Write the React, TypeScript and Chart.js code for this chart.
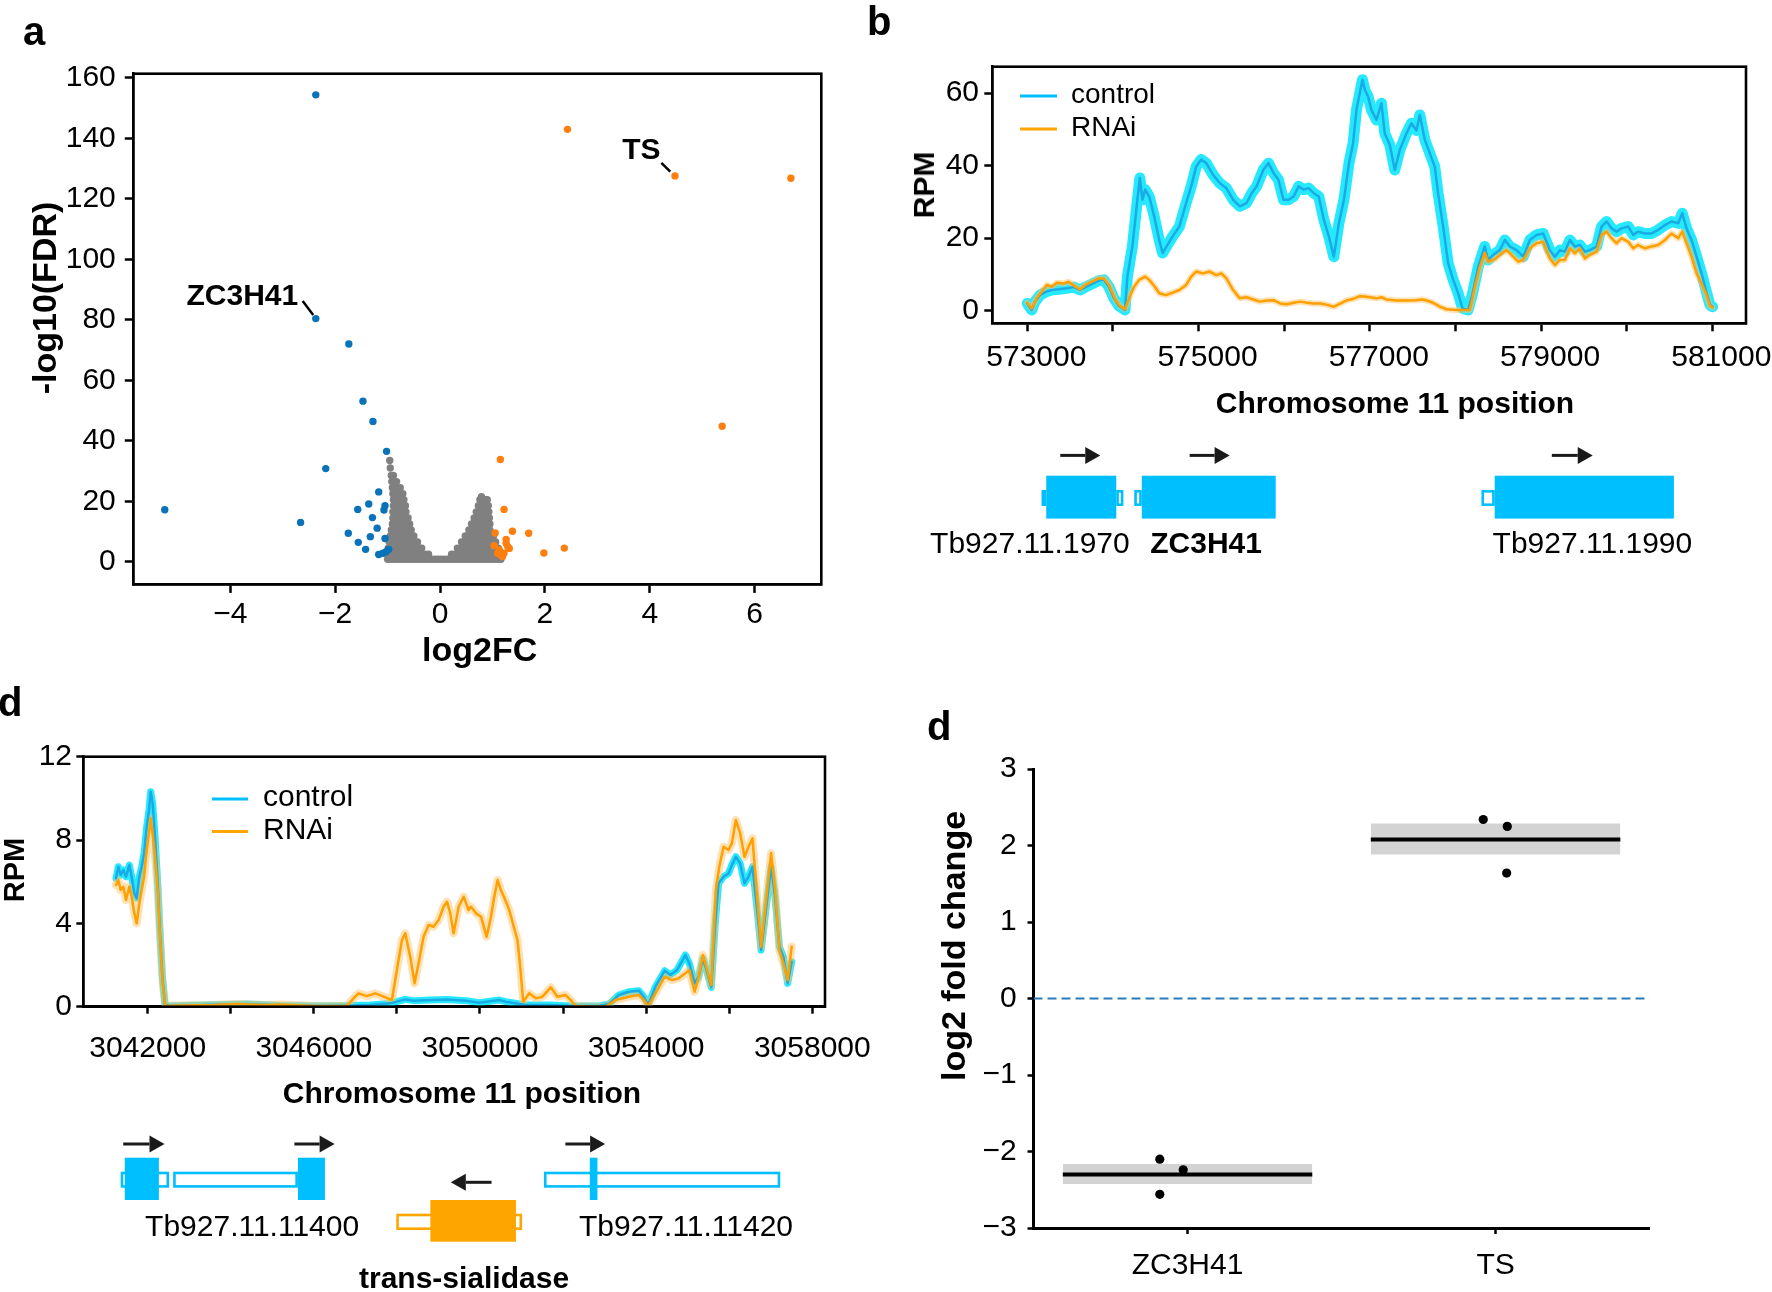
import React, { useEffect, useRef } from 'react';
import { Chart, registerables } from 'chart.js';

Chart.register(...registerables);

const FONT_FAMILY = "'Liberation Sans', Arial, Helvetica, sans-serif";
const MINUS = '\u2212';
const signed = (v: number) => (v < 0 ? MINUS + Math.abs(v) : String(v));

// ================= Panel a : volcano plot =================
const VOLCANO_X_TICKS = [-4, -2, 0, 2, 4, 6];
const VOLCANO_Y_TICKS = [0, 20, 40, 60, 80, 100, 120, 140, 160];

const DOWN_REGULATED: [number, number][] = [
  [-2.37, 154.4], [-2.37, 80.4], [-1.74, 72.0], [-1.47, 53.1], [-1.28, 46.4], [-1.02, 36.5],
  [-2.18, 30.8], [-5.25, 17.2], [-2.66, 13.0], [-1.17, 23.1], [-1.36, 19.1], [-1.57, 17.3],
  [-1.05, 18.5], [-1.07, 17.1], [-1.29, 14.6], [-1.2, 11.1], [-1.75, 9.4], [-1.33, 8.3],
  [-1.05, 7.7], [-1.56, 6.4], [-1.42, 4.1], [-1.17, 2.4], [-1.09, 2.8], [-1.03, 3.3], [-0.98, 4.1],
];

const UP_REGULATED: [number, number][] = [
  [2.43, 143.0], [4.48, 127.6], [6.69, 126.8], [5.38, 44.8], [1.15, 33.8], [1.22, 17.3],
  [1.05, 9.5], [1.38, 10.1], [1.69, 9.4], [1.26, 7.4], [1.98, 2.9], [2.37, 4.5], [1.03, 5.3],
  [1.13, 3.9], [1.22, 2.8], [1.29, 5.0], [1.19, 1.7], [1.1, 2.8], [1.32, 4.4], [1.26, 6.1], [1.16, 2.2],
];

// not significant genes, read row by row: [ -log10(FDR), log2FC values ]
const NOT_SIGNIFICANT_ROWS: [number, number[]][] = [
  [33.5, [-0.96]],
  [31, [-0.95]],
  [28.5, [-0.93, -0.89]],
  [26.5, [-0.92, -0.87, -0.83]],
  [24.5, [-0.91, -0.86, -0.81, -0.76]],
  [22.5, [-0.9, -0.85, -0.8, -0.75, -0.71]],
  [21.5, [0.79]],
  [20.5, [-0.89, -0.84, -0.79, -0.74, -0.69, 0.76, 0.81, 0.86, 0.9]],
  [18.5, [-0.89, -0.84, -0.79, -0.74, -0.69, -0.66, 0.73, 0.78, 0.83, 0.88, 0.92]],
  [16.5, [-0.9, -0.85, -0.8, -0.75, -0.7, -0.65, 0.69, 0.74, 0.79, 0.84, 0.89, 0.93]],
  [14.5, [-0.9, -0.85, -0.8, -0.75, -0.7, -0.65, -0.61, 0.65, 0.7, 0.75, 0.8, 0.85, 0.9, 0.94]],
  [12.5, [-0.91, -0.86, -0.81, -0.76, -0.71, -0.66, -0.61, -0.58, 0.6, 0.65, 0.7, 0.75, 0.8, 0.85, 0.9, 0.95]],
  [10.5, [-0.93, -0.88, -0.83, -0.78, -0.73, -0.68, -0.63, -0.58, -0.55,
    0.55, 0.6, 0.65, 0.7, 0.75, 0.8, 0.85, 0.9, 0.95]],
  [8.5, [-0.95, -0.9, -0.85, -0.8, -0.75, -0.7, -0.65, -0.6, -0.55, -0.5,
    0.48, 0.53, 0.58, 0.63, 0.68, 0.73, 0.78, 0.83, 0.88, 0.93, 0.98, 1.02]],
  [6.5, [-0.97, -0.92, -0.87, -0.82, -0.77, -0.72, -0.67, -0.62, -0.57, -0.52, -0.47, -0.43,
    0.41, 0.47, 0.53, 0.59, 0.65, 0.71, 0.77, 0.83, 0.89, 0.95, 1.01, 1.06]],
  [4.5, [-0.99, -0.94, -0.89, -0.84, -0.79, -0.74, -0.69, -0.64, -0.59, -0.54, -0.49, -0.44, -0.39, -0.35,
    0.33, 0.39, 0.45, 0.51, 0.57, 0.63, 0.69, 0.75, 0.81, 0.87, 0.93, 0.99, 1.05, 1.11]],
  [2.5, [-1.0, -0.94, -0.88, -0.82, -0.76, -0.7, -0.64, -0.58, -0.52, -0.46, -0.4, -0.34, -0.28, -0.22,
    0.22, 0.28, 0.34, 0.4, 0.46, 0.52, 0.58, 0.64, 0.7, 0.76, 0.82, 0.88, 0.94, 1.0, 1.06, 1.12, 1.18]],
  [0.8, [-1.0, -0.94, -0.88, -0.82, -0.76, -0.7, -0.64, -0.58, -0.52, -0.46, -0.4, -0.34, -0.28, -0.22,
    -0.16, -0.1, -0.04, 0.02, 0.08, 0.14, 0.2, 0.26, 0.32, 0.38, 0.44, 0.5, 0.56, 0.62, 0.68, 0.74,
    0.8, 0.86, 0.92, 0.98, 1.04, 1.1, 1.16]],
];

const VOLCANO_CALLOUTS = [
  { text: 'ZC3H41', at: [-3.77, 87.6], from: [-2.62, 86.2], to: [-2.42, 81.6] },
  { text: 'TS', at: [3.84, 135.9], from: [4.22, 131.9], to: [4.39, 129.0] },
];

// ================= Panel b : coverage, chr11 573-581 kb =================
const SERIES_NAMES = ['control', 'RNAi'];
const B_X_TICKS = [573000, 574000, 575000, 576000, 577000, 578000, 579000, 580000, 581000];
const B_X_LABELLED = [573000, 575000, 577000, 579000, 581000];
const B_Y_TICKS = [0, 20, 40, 60];

const B_CONTROL: [number, number][] = [
  [573000, 2.0], [573051, 0.2], [573090, 2.5], [573149, 4.3], [573227, 5.3], [573286, 5.7], [573365, 5.9],
  [573463, 6.2], [573541, 6.5], [573620, 5.7], [573678, 6.5], [573757, 7.4], [573835, 8.3], [573894, 8.5],
  [573953, 6.6], [574012, 3.4], [574071, 1.3], [574141, 0.2], [574169, 9.4], [574227, 17.7], [574286, 30.6],
  [574314, 36.6], [574345, 30.6], [574376, 33.4], [574424, 31.5], [574482, 26], [574541, 19.5], [574580, 15.9],
  [574639, 18.2], [574698, 20.5], [574776, 23.2], [574855, 29.7], [574914, 34.3], [574973, 39.8], [575031, 41.7],
  [575090, 40.7], [575169, 37.5], [575247, 35.2], [575325, 33.8], [575404, 30.6], [575482, 28.8], [575561, 29.7],
  [575620, 32.4], [575678, 34.3], [575757, 38.9], [575816, 40.7], [575875, 38], [575933, 36.1], [575992, 30.6],
  [576051, 30.6], [576110, 31.5], [576169, 34.3], [576227, 33.4], [576286, 33.8], [576345, 32.4], [576404, 31.5],
  [576463, 25.1], [576522, 20.5], [576580, 14.9], [576639, 24.1], [576698, 30.6], [576757, 40.7], [576805, 46.2],
  [576844, 55.4], [576883, 60], [576914, 63.7], [576942, 60.9], [576981, 59], [577019, 55.4], [577078, 52.6],
  [577136, 57.2], [577175, 48.9], [577234, 45.7], [577292, 38.8], [577350, 44.3], [577428, 48.9], [577487, 51.7],
  [577545, 49.7], [577584, 54], [577643, 47.1], [577701, 43.4], [577759, 39.7], [577798, 32.4], [577857, 23.2],
  [577915, 13.1], [577974, 8.5], [578032, 4.8], [578083, 0.6], [578149, 0.2], [578200, 4.8], [578266, 12.1],
  [578316, 15.8], [578343, 17.7], [578383, 14], [578441, 15.4], [578519, 16.7], [578577, 19.5], [578636, 17.7],
  [578714, 16.7], [578792, 14.9], [578870, 19.5], [578948, 20.9], [579025, 21.3], [579103, 16.7], [579162, 14.9],
  [579220, 16.7], [579279, 16.3], [579337, 19.5], [579396, 17.7], [579454, 18.1], [579512, 16.3], [579571, 16.7],
  [579649, 17.7], [579707, 23.2], [579766, 24.6], [579824, 22.7], [579882, 21.8], [579941, 22.7], [580019, 23.2],
  [580077, 20.9], [580135, 21.8], [580213, 21.3], [580291, 21.3], [580369, 22.3], [580447, 23.6], [580525, 24.6],
  [580603, 24.1], [580649, 26.9], [580700, 22.7], [580758, 19.5], [580817, 14.9], [580875, 10.3], [580926, 5.7],
  [580973, 1.6], [581004, 1.1],
];

const B_RNAI: [number, number][] = [
  [573000, 2.2], [573051, 0.6], [573109, 3.4], [573168, 5.2], [573227, 7.1], [573286, 6.6], [573345, 7.7],
  [573424, 7.5], [573482, 8.0], [573561, 6.6], [573620, 5.9], [573678, 7.1], [573757, 8.0], [573835, 8.9],
  [573894, 8.9], [573953, 7.1], [574031, 2.9], [574090, 1.1], [574141, 0.4], [574188, 3.4], [574247, 6.6],
  [574306, 8.5], [574376, 9.4], [574424, 8.5], [574482, 6.8], [574541, 4.8], [574620, 4.3], [574698, 5.0],
  [574776, 5.7], [574855, 7.1], [574914, 9.4], [574973, 10.8], [575051, 10.3], [575129, 10.8], [575208, 9.8],
  [575267, 10.3], [575325, 8.9], [575404, 5.7], [575482, 3.4], [575561, 3.7], [575639, 3.1], [575718, 2.5],
  [575796, 2.8], [575875, 2.9], [575953, 2.0], [576031, 1.8], [576110, 2.2], [576188, 2.5], [576267, 2.2],
  [576345, 2.0], [576424, 2.0], [576502, 1.6], [576580, 1.1], [576659, 2.0], [576737, 2.9], [576816, 3.3],
  [576883, 4.0], [576942, 3.9], [577000, 3.7], [577078, 3.4], [577136, 3.7], [577195, 3.1], [577312, 2.8],
  [577428, 2.8], [577545, 2.9], [577604, 3.1], [577662, 2.8], [577740, 2.2], [577818, 1.1], [577896, 0.4],
  [578013, 0.2], [578169, 0.2], [578227, 6.6], [578286, 12.1], [578343, 16], [578383, 13.5], [578461, 14.2],
  [578539, 15.8], [578597, 16.7], [578675, 14.9], [578734, 13.5], [578792, 14], [578870, 17.2], [578948, 18.6],
  [579025, 19], [579103, 14.4], [579162, 12.6], [579220, 14], [579279, 14], [579337, 17.2], [579396, 15.8],
  [579454, 17.2], [579512, 14.4], [579571, 15.4], [579649, 16.3], [579707, 20.9], [579766, 21.8], [579824, 20],
  [579882, 18.6], [579941, 20], [580019, 19], [580077, 17.2], [580135, 18.1], [580213, 17.2], [580291, 17.7],
  [580369, 18.1], [580447, 19.5], [580525, 21.3], [580603, 20], [580649, 21.8], [580700, 18.6], [580758, 14.9],
  [580817, 10.3], [580875, 7.5], [580926, 4.8], [580973, 1.3], [581004, 0.9],
];

const B_GENES = [
  { name: 'Tb927.11.1970', bold: false, color: 'blue', row: 0, cds: [[573221, 574039]], utr: [[573166, 573221], [574039, 574122]], arrows: [[573385, 573852]], labelAt: 573030 },
  { name: 'ZC3H41', bold: true, color: 'blue', row: 0, cds: [[574337, 575901]], utr: [[574249, 574337]], arrows: [[574896, 575363]], labelAt: 575088 },
  { name: 'Tb927.11.1990', bold: false, color: 'blue', row: 0, cds: [[578459, 580552]], utr: [[578304, 578459]], arrows: [[579126, 579604]], labelAt: 579600 },
];

// ================= Panel d (left) : coverage, chr11 3.04-3.058 Mb =================
const D_X_TICKS = [3042000, 3044000, 3046000, 3048000, 3050000, 3052000, 3054000, 3056000, 3058000];
const D_X_LABELLED = [3042000, 3046000, 3050000, 3054000, 3058000];
const D_Y_TICKS = [0, 4, 8, 12];

const D_CONTROL: [number, number][] = [
  [3041237, 6.16], [3041293, 6.72], [3041349, 6.32], [3041414, 6.56], [3041478, 6.24], [3041558, 6.8],
  [3041614, 6.24], [3041679, 5.44], [3041735, 5.2], [3041799, 6.24], [3041855, 6.72], [3041912, 7.36],
  [3041976, 8.64], [3042032, 9.44], [3042072, 10.32], [3042120, 9.76], [3042177, 8.16], [3042241, 5.92],
  [3042297, 3.52], [3042353, 1.44], [3042418, 0.08], [3042538, 0.03], [3043422, 0.08], [3044386, 0.13],
  [3045189, 0.06], [3045992, 0.03], [3046795, 0.05], [3047357, 0.08], [3047839, 0.16], [3048201, 0.35],
  [3048402, 0.29], [3048803, 0.32], [3049205, 0.35], [3049664, 0.29], [3049984, 0.19], [3050464, 0.32],
  [3050624, 0.24], [3051104, 0.08], [3051664, 0.08], [3052064, 0.05], [3052384, 0.03], [3052864, 0.03],
  [3053104, 0.13], [3053344, 0.56], [3053584, 0.72], [3053824, 0.77], [3053944, 0.48], [3054048, 0.08],
  [3054224, 0.96], [3054448, 1.73], [3054584, 1.52], [3054744, 1.76], [3054944, 2.48], [3055040, 2.08],
  [3055168, 1.12], [3055264, 1.44], [3055368, 2.32], [3055464, 1.68], [3055568, 0.93], [3055664, 4.0],
  [3055744, 5.92], [3055864, 6.24], [3055984, 6.4], [3056064, 6.8], [3056160, 7.2], [3056264, 6.88],
  [3056368, 5.92], [3056464, 6.24], [3056560, 6.72], [3056664, 4.8], [3056768, 2.72], [3056864, 4.32],
  [3057008, 6.72], [3057104, 5.28], [3057208, 2.88], [3057304, 2.4], [3057408, 1.12], [3057504, 2.16],
];

const D_RNAI: [number, number][] = [
  [3041237, 5.84], [3041293, 6.08], [3041349, 5.6], [3041414, 5.76], [3041478, 5.12], [3041558, 5.76],
  [3041614, 5.28], [3041679, 4.48], [3041735, 4.0], [3041799, 4.96], [3041855, 5.6], [3041912, 6.24],
  [3041976, 7.52], [3042032, 8.32], [3042072, 9.04], [3042120, 8.32], [3042177, 7.2], [3042241, 5.6],
  [3042297, 3.36], [3042361, 1.12], [3042426, 0.03], [3042779, 0.06], [3043582, 0.08], [3044145, 0.13],
  [3044868, 0.08], [3045189, 0.11], [3045992, 0.03], [3046795, 0.03], [3046956, 0.4], [3047076, 0.64],
  [3047277, 0.51], [3047478, 0.64], [3047679, 0.48], [3047879, 0.32], [3048000, 1.76], [3048121, 3.2],
  [3048201, 3.52], [3048321, 2.4], [3048426, 1.12], [3048522, 2.08], [3048642, 3.36], [3048763, 3.92],
  [3048883, 3.84], [3049004, 4.16], [3049124, 4.8], [3049205, 5.04], [3049285, 4.48], [3049366, 3.52],
  [3049486, 4.8], [3049606, 5.28], [3049727, 4.64], [3049784, 4.8], [3049904, 4.48], [3050024, 4.32],
  [3050160, 3.36], [3050264, 4.32], [3050344, 5.28], [3050424, 6.08], [3050504, 5.6], [3050608, 5.12],
  [3050704, 4.64], [3050824, 3.76], [3050904, 3.2], [3050968, 1.92], [3051040, 0.24], [3051184, 0.64],
  [3051344, 0.4], [3051504, 0.48], [3051704, 0.93], [3051864, 0.48], [3052064, 0.56], [3052184, 0.32],
  [3052304, 0.03], [3052704, 0], [3053024, 0], [3053264, 0.32], [3053584, 0.48], [3053824, 0.56],
  [3053944, 0.32], [3054048, 0.03], [3054224, 0.64], [3054448, 1.44], [3054624, 1.28], [3054784, 1.36],
  [3054944, 1.6], [3055040, 1.76], [3055168, 0.72], [3055264, 1.44], [3055368, 2.48], [3055464, 1.76],
  [3055568, 1.04], [3055680, 5.6], [3055760, 6.72], [3055864, 7.68], [3055984, 7.52], [3056064, 7.84],
  [3056160, 8.96], [3056264, 8.32], [3056368, 7.2], [3056464, 7.68], [3056560, 8.08], [3056664, 5.44],
  [3056768, 2.88], [3056864, 4.64], [3057008, 7.36], [3057104, 5.6], [3057208, 2.72], [3057304, 2.08],
  [3057408, 1.28], [3057504, 2.88],
];

const D_GENES = [
  { name: 'Tb927.11.11400', bold: false, color: 'blue', row: 0, cds: [[3041448, 3042270], [3045617, 3046267]], utr: [[3041350, 3042515], [3042613, 3045617]], arrows: [[3041411, 3042405], [3045532, 3046500]], labelAt: 3044514 },
  { name: 'trans-sialidase', bold: true, color: 'orange', row: 1, cds: [[3048805, 3050866]], utr: [[3047985, 3051014]], arrows: [[3050278, 3049297]], labelAt: 3049616 },
  { name: 'Tb927.11.11420', bold: false, color: 'blue', row: 0, cds: [[3052644, 3052828]], utr: [[3051540, 3057229]], arrows: [[3052056, 3053012]], labelAt: 3054960 },
];

// ================= Panel d (right) : qPCR log2 fold change =================
const QPCR_TARGETS = ['ZC3H41', 'TS'];
const QPCR_REPLICATES = [[-2.10, -2.24, -2.56], [2.34, 2.25, 1.64]];
const QPCR_JITTER = [[-0.09, -0.014, -0.09], [-0.04, 0.038, 0.036]];
const QPCR_MEAN = [-2.30, 2.08];
const QPCR_SE_LOW = [-2.426, 1.882];
const QPCR_SE_HIGH = [-2.163, 2.286];
const QPCR_Y_TICKS = [-3, -2, -1, 0, 1, 2, 3];

// ================= styles =================
const COLORS: Record<string, string> = {
  blue: '#00BFFF',
  orange: '#FFA500',
  down: '#0A72B8',
  up: '#FF7F0E',
  ns: '#808080',
  controlLine: '#19ABE5',
  controlBand: 'rgba(0,229,255,0.85)',
  rnaiLine: '#FFA000',
  rnaiBand: 'rgba(255,195,105,0.5)',
};

const toXY = (pairs: [number, number][]) => pairs.map(([x, y]) => ({ x, y }));

function makeAxis(horizontal: boolean, s: any) {
  return {
    type: 'linear',
    position: horizontal ? 'bottom' : 'left',
    min: s.min,
    max: s.max,
    bounds: 'data',
    offset: false,
    afterBuildTicks: (scale: any) => {
      scale.ticks = s.ticks.map((value: number) => ({ value }));
    },
    afterFit: (scale: any) => {
      if (horizontal) scale.height = s.size;
      else scale.width = s.size;
      scale.paddingLeft = 0;
      scale.paddingRight = 0;
      scale.paddingTop = 0;
      scale.paddingBottom = 0;
    },
    ticks: {
      autoSkip: false,
      maxRotation: 0,
      minRotation: 0,
      padding: s.padding,
      labelOffset: s.labelOffset || 0,
      color: '#000',
      font: { family: FONT_FAMILY, size: s.fontSize || 30 },
      callback: (v: any) => (s.label ? s.label(Number(v)) : signed(Number(v))),
    },
    grid: {
      display: true,
      drawOnChartArea: false,
      drawTicks: true,
      tickLength: s.tickLength,
      tickWidth: 2.5,
      tickColor: '#000',
      color: '#000',
    },
    border: { display: true, color: '#000', width: s.borderWidth || 2.5 },
    title: { display: false },
  };
}

const framePlugin = {
  id: 'frame',
  afterDraw(chart: any, _a: any, opts: any) {
    if (!opts || !opts.show) return;
    const { left, top, right, bottom } = chart.chartArea;
    const ctx = chart.ctx;
    ctx.save();
    ctx.strokeStyle = '#000';
    ctx.lineWidth = opts.width;
    ctx.strokeRect(left, top, right - left, bottom - top);
    ctx.restore();
  },
};

const calloutPlugin = {
  id: 'callouts',
  afterDatasetsDraw(chart: any, _a: any, opts: any) {
    if (!opts || !opts.items) return;
    const ctx = chart.ctx;
    const xs = chart.scales.x;
    const ys = chart.scales.y;
    ctx.save();
    for (const c of opts.items) {
      ctx.strokeStyle = '#000';
      ctx.lineWidth = 2.5;
      ctx.beginPath();
      ctx.moveTo(xs.getPixelForValue(c.from[0]), ys.getPixelForValue(c.from[1]));
      ctx.lineTo(xs.getPixelForValue(c.to[0]), ys.getPixelForValue(c.to[1]));
      ctx.stroke();
      ctx.fillStyle = '#000';
      ctx.font = `bold 30px ${FONT_FAMILY}`;
      ctx.textAlign = 'center';
      ctx.textBaseline = 'middle';
      ctx.fillText(c.text, xs.getPixelForValue(c.at[0]), ys.getPixelForValue(c.at[1]));
    }
    ctx.restore();
  },
};

const legendPlugin = {
  id: 'inlineLegend',
  afterDraw(chart: any, _a: any, opts: any) {
    if (!opts || !opts.items) return;
    const ctx = chart.ctx;
    ctx.save();
    ctx.font = `${opts.fontSize}px ${FONT_FAMILY}`;
    ctx.textAlign = 'left';
    ctx.textBaseline = 'middle';
    opts.items.forEach((it: any, i: number) => {
      const y = opts.ys[i];
      ctx.strokeStyle = it.color;
      ctx.lineWidth = 3;
      ctx.beginPath();
      ctx.moveTo(opts.lineX0, y);
      ctx.lineTo(opts.lineX1, y);
      ctx.stroke();
      ctx.fillStyle = '#000';
      ctx.fillText(it.label, opts.textX, y - 1);
    });
    ctx.restore();
  },
};

function drawArrow(ctx: any, x0: number, x1: number, y: number) {
  const dir = Math.sign(x1 - x0);
  const head = 15;
  const half = 8.5;
  ctx.strokeStyle = '#1a1a1a';
  ctx.fillStyle = '#1a1a1a';
  ctx.lineWidth = 3;
  ctx.beginPath();
  ctx.moveTo(x0, y);
  ctx.lineTo(x1 - dir * head, y);
  ctx.stroke();
  ctx.beginPath();
  ctx.moveTo(x1, y);
  ctx.lineTo(x1 - dir * head, y - half);
  ctx.lineTo(x1 - dir * head, y + half);
  ctx.closePath();
  ctx.fill();
}

const genePlugin = {
  id: 'genes',
  afterDraw(chart: any, _a: any, opts: any) {
    if (!opts || !opts.genes) return;
    const ctx = chart.ctx;
    const xs = chart.scales.x;
    const px = (v: number) => xs.getPixelForValue(v);
    for (const g of opts.genes) {
      const row = opts.rows[g.row];
      const color = COLORS[g.color];
      ctx.save();
      ctx.strokeStyle = color;
      ctx.lineWidth = 2.6;
      for (const [s, e] of g.utr) {
        const a = px(s);
        const b = px(e);
        ctx.strokeRect(a + 1.3, row.utrTop + 1.3, Math.max(b - a - 2.6, 0.5), row.utrBottom - row.utrTop - 2.6);
      }
      ctx.fillStyle = color;
      for (const [s, e] of g.cds) {
        const a = px(s);
        const b = px(e);
        ctx.fillRect(a, row.cdsTop, b - a, row.cdsBottom - row.cdsTop);
      }
      for (const [s, e] of g.arrows) drawArrow(ctx, px(s), px(e), row.arrowY);
      ctx.fillStyle = '#000';
      ctx.font = `${g.bold ? 'bold ' : ''}30px ${FONT_FAMILY}`;
      ctx.textAlign = 'center';
      ctx.textBaseline = 'middle';
      ctx.fillText(g.name, px(g.labelAt), row.labelY);
      ctx.restore();
    }
  },
};

const baseOptions = (padding: any) => ({
  responsive: false,
  maintainAspectRatio: false,
  animation: false,
  devicePixelRatio: 1,
  events: [],
  layout: { autoPadding: false, padding },
});

// ---------- configs ----------
function volcanoConfig() {
  const grey = NOT_SIGNIFICANT_ROWS.flatMap(([y, xsRow]) => xsRow.map((x) => ({ x, y })));
  return {
    type: 'scatter',
    data: {
      datasets: [
        { label: 'down', data: toXY(DOWN_REGULATED), backgroundColor: COLORS.down, borderColor: COLORS.down, borderWidth: 0, pointRadius: 3.7, order: 1 },
        { label: 'up', data: toXY(UP_REGULATED), backgroundColor: COLORS.up, borderColor: COLORS.up, borderWidth: 0, pointRadius: 3.7, order: 1 },
        { label: 'ns', data: grey, backgroundColor: COLORS.ns, borderColor: COLORS.ns, borderWidth: 0, pointRadius: 3.7, order: 2 },
      ],
    },
    options: {
      ...baseOptions({ left: 0, top: 73.7, right: 38.7, bottom: 35.6 }),
      scales: {
        x: makeAxis(true, { min: -5.85, max: 7.27, ticks: VOLCANO_X_TICKS, size: 60, tickLength: 8.5, padding: 3.6 }),
        y: makeAxis(false, { min: -7.5, max: 161.4, ticks: VOLCANO_Y_TICKS, size: 133.3, tickLength: 8.5, padding: 9 }),
      },
      plugins: {
        legend: { display: false },
        tooltip: { enabled: false },
        frame: { show: true, width: 2.6 },
        callouts: { items: VOLCANO_CALLOUTS },
      },
    },
    plugins: [framePlugin, calloutPlugin],
  };
}

function coverageDatasets(control: [number, number][], rnai: [number, number][], bandCtl: number, bandRnai: number) {
  const common = { pointRadius: 0, fill: false, tension: 0, borderJoinStyle: 'round', borderCapStyle: 'round' };
  return [
    { ...common, label: SERIES_NAMES[0] + ' spread', data: toXY(control), borderColor: COLORS.controlBand, borderWidth: bandCtl, order: 4 },
    { ...common, label: SERIES_NAMES[1] + ' spread', data: toXY(rnai), borderColor: COLORS.rnaiBand, borderWidth: bandRnai, order: 3 },
    { ...common, label: SERIES_NAMES[0], data: toXY(control), borderColor: COLORS.controlLine, borderWidth: 2.5, order: 2 },
    { ...common, label: SERIES_NAMES[1], data: toXY(rnai), borderColor: COLORS.rnaiLine, borderWidth: 2.5, order: 1 },
  ];
}

const legendItems = [
  { label: SERIES_NAMES[0], color: COLORS.blue },
  { label: SERIES_NAMES[1], color: COLORS.orange },
];

function coverageBConfig() {
  return {
    type: 'line',
    data: { datasets: coverageDatasets(B_CONTROL, B_RNAI, 11, 6) },
    options: {
      ...baseOptions({ left: 0, top: 66.7, right: 26, bottom: 196.7 }),
      scales: {
        x: makeAxis(true, {
          min: 572591, max: 581394, ticks: B_X_TICKS, size: 60, tickLength: 8, padding: 8.2, labelOffset: 9,
          label: (v: number) => (B_X_LABELLED.includes(v) ? String(v) : ''),
        }),
        y: makeAxis(false, { min: -3.48, max: 67.3, ticks: B_Y_TICKS, size: 132.3, tickLength: 8, padding: 5.3 }),
      },
      plugins: {
        legend: { display: false },
        tooltip: { enabled: false },
        frame: { show: true, width: 2.6 },
        inlineLegend: { items: legendItems, lineX0: 160, lineX1: 197, textX: 211, ys: [96, 129], fontSize: 28 },
        genes: {
          genes: B_GENES,
          rows: [{ arrowY: 455.4, cdsTop: 475.7, cdsBottom: 518.6, utrTop: 490, utrBottom: 506, labelY: 545 }],
        },
      },
    },
    plugins: [framePlugin, legendPlugin, genePlugin],
  };
}

function coverageDConfig() {
  return {
    type: 'line',
    data: { datasets: coverageDatasets(D_CONTROL, D_RNAI, 7, 8) },
    options: {
      ...baseOptions({ left: 0, top: 66.7, right: 55, bottom: 225.3 }),
      scales: {
        x: makeAxis(true, {
          min: 3040450, max: 3058306, ticks: D_X_TICKS, size: 60, tickLength: 7, padding: 16.6,
          label: (v: number) => (D_X_LABELLED.includes(v) ? String(v) : ''),
        }),
        y: makeAxis(false, { min: 0, max: 12, ticks: D_Y_TICKS, size: 83.3, tickLength: 7, padding: 4.3 }),
      },
      plugins: {
        legend: { display: false },
        tooltip: { enabled: false },
        frame: { show: true, width: 2.6 },
        inlineLegend: { items: legendItems, lineX0: 212, lineX1: 248, textX: 263, ys: [109, 141.5], fontSize: 30 },
        genes: {
          genes: D_GENES,
          rows: [
            { arrowY: 454, cdsTop: 467.7, cdsBottom: 510, utrTop: 481.7, utrBottom: 497.7, labelY: 538 },
            { arrowY: 492.3, cdsTop: 510, cdsBottom: 551.7, utrTop: 523.7, utrBottom: 540, labelY: 590 },
          ],
        },
      },
    },
    plugins: [framePlugin, legendPlugin, genePlugin],
  };
}

function qpcrConfig() {
  const HALF = 0.405;
  const datasets: any[] = [];
  QPCR_TARGETS.forEach((_t, i) => {
    datasets.push({
      label: 'se high ' + i, data: [{ x: i - HALF, y: QPCR_SE_HIGH[i] }, { x: i + HALF, y: QPCR_SE_HIGH[i] }],
      borderWidth: 0, borderColor: 'rgba(0,0,0,0)', backgroundColor: '#D3D3D3', fill: '+1', pointRadius: 0, order: 5,
    });
    datasets.push({
      label: 'se low ' + i, data: [{ x: i - HALF, y: QPCR_SE_LOW[i] }, { x: i + HALF, y: QPCR_SE_LOW[i] }],
      borderWidth: 0, borderColor: 'rgba(0,0,0,0)', fill: false, pointRadius: 0, order: 5,
    });
  });
  datasets.push({
    label: 'zero', data: [{ x: -0.5, y: 0 }, { x: 1.5, y: 0 }], borderColor: '#2B7BBA', borderWidth: 2,
    borderDash: [9, 5], pointRadius: 0, fill: false, order: 4,
  });
  QPCR_TARGETS.forEach((_t, i) => {
    datasets.push({
      label: 'mean ' + i, data: [{ x: i - HALF, y: QPCR_MEAN[i] }, { x: i + HALF, y: QPCR_MEAN[i] }],
      borderColor: '#000', borderWidth: 4, pointRadius: 0, fill: false, order: 3,
    });
  });
  const pts = QPCR_REPLICATES.flatMap((reps, i) => reps.map((y, j) => ({ x: i + QPCR_JITTER[i][j], y })));
  datasets.push({
    label: 'replicates', data: pts, showLine: false, pointRadius: 4.6, backgroundColor: '#000', borderColor: '#000',
    borderWidth: 0, fill: false, order: 1,
  });
  return {
    type: 'line',
    data: { datasets },
    options: {
      ...baseOptions({ left: 0, top: 69, right: 122.4, bottom: 0 }),
      scales: {
        x: makeAxis(true, {
          min: -0.5, max: 1.5, ticks: [0, 1], size: 64, tickLength: 6, padding: 14, borderWidth: 3,
          label: (v: number) => QPCR_TARGETS[v] ?? '',
        }),
        y: makeAxis(false, { min: -3, max: 3, ticks: QPCR_Y_TICKS, size: 153.5, tickLength: 6, padding: 10.8, borderWidth: 3 }),
      },
      plugins: { legend: { display: false }, tooltip: { enabled: false } },
    },
  };
}

// ---------- components ----------
function ChartCanvas({ left, top, width, height, make }: any) {
  const ref = useRef<HTMLCanvasElement>(null);
  useEffect(() => {
    const chart = new Chart(ref.current as HTMLCanvasElement, make());
    return () => chart.destroy();
  }, []);
  return (
    <canvas
      ref={ref}
      width={width}
      height={height}
      style={{ position: 'absolute', left, top, width, height, display: 'block' }}
    />
  );
}

const PANEL_LETTERS = [
  { text: 'a', left: 23, top: 11 },
  { text: 'b', left: 867, top: 1 },
  { text: 'd', left: -2, top: 682 },
  { text: 'd', left: 927, top: 706 },
];

const AXIS_TITLES = [
  { text: '-log10(FDR)', x: 44.2, y: 298, rotate: true, size: 34 },
  { text: 'log2FC', x: 479.7, y: 648.8, rotate: false, size: 34 },
  { text: 'RPM', x: 924, y: 185, rotate: true, size: 30 },
  { text: 'Chromosome 11 position', x: 1395, y: 403.3, rotate: false, size: 30 },
  { text: 'RPM', x: 14, y: 870, rotate: true, size: 29 },
  { text: 'Chromosome 11 position', x: 462, y: 1093.3, rotate: false, size: 30 },
  { text: 'log2 fold change', x: 952.8, y: 946, rotate: true, size: 34 },
];

export default function App() {
  return (
    <div
      style={{
        position: 'absolute', left: 0, top: 0, width: 1772, height: 1292, background: '#fff',
        overflow: 'hidden', fontFamily: FONT_FAMILY, color: '#000',
      }}
    >
      <ChartCanvas left={0} top={0} width={860} height={680} make={volcanoConfig} />
      <ChartCanvas left={860} top={0} width={912} height={580} make={coverageBConfig} />
      <ChartCanvas left={0} top={690} width={880} height={602} make={coverageDConfig} />
      <ChartCanvas left={880} top={700} width={892} height={592} make={qpcrConfig} />
      {PANEL_LETTERS.map((p, i) => (
        <div
          key={'l' + i}
          style={{
            position: 'absolute', left: p.left, top: p.top, fontSize: 40, lineHeight: '40px',
            fontWeight: 'bold', fontFamily: FONT_FAMILY,
          }}
        >
          {p.text}
        </div>
      ))}
      {AXIS_TITLES.map((t, i) => (
        <div
          key={'t' + i}
          style={{
            position: 'absolute', left: t.x, top: t.y, fontSize: t.size, lineHeight: 1, fontWeight: 'bold',
            whiteSpace: 'nowrap', fontFamily: FONT_FAMILY,
            transform: `translate(-50%, -50%)${t.rotate ? ' rotate(-90deg)' : ''}`,
          }}
        >
          {t.text}
        </div>
      ))}
    </div>
  );
}
